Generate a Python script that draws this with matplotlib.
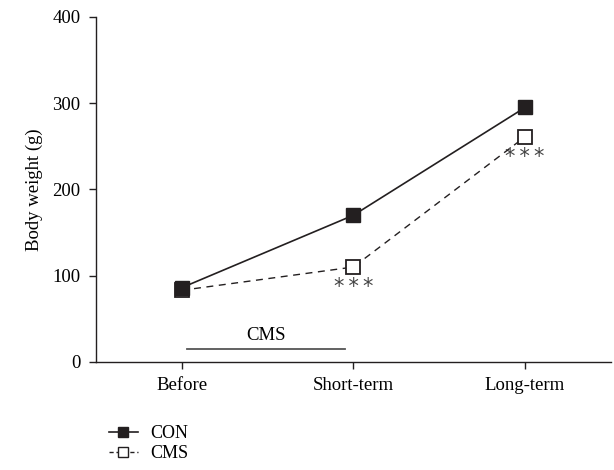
import matplotlib
matplotlib.use("Agg")
import matplotlib.pyplot as plt
from matplotlib.lines import Line2D

categories = ["Before", "Short-term", "Long-term"]
con_values = [86, 170, 295]
cms_values = [83, 110, 261]
cms_err = [3, 4, 6]
yticks = [0, 100, 200, 300, 400]
sig_labels = ["", "*\u2009*\u2009*", "*\u2009*\u2009*"]

plt.rcParams['font.family'] = ['Liberation Serif', 'DejaVu Serif']
plt.rcParams['font.size'] = 13.5

fig = plt.figure(figsize=(6.14, 4.70), dpi=100)
ax = fig.add_axes([0.156, 0.23, 0.839, 0.734])

x = list(range(len(categories)))
ax.plot(x, con_values, color='#231f20', lw=1.2, ls='-', marker='s', ms=10,
        mfc='#231f20', mec='#231f20', zorder=4)
ax.errorbar(x, cms_values, yerr=cms_err, color='#231f20', lw=1.0, ls=(0, (5, 4)),
            marker='s', ms=10, mfc='white', mec='#231f20', mew=1.3,
            capsize=3, elinewidth=0.8, zorder=3)

for xi, v, s in zip(x, cms_values, sig_labels):
    if s:
        ax.text(xi, v - 12, s, ha='center', va='top', fontsize=15,
                color='#444444', family='DejaVu Sans')

ax.plot([0.03, 0.95], [15, 15], color='#555555', lw=1.3)
ax.text(0.49, 21, "CMS", ha='center', va='bottom')

ax.set_xlim(-0.5, 2.5)
ax.set_ylim(0, 400)
ax.set_yticks(yticks)
ax.set_xticks(x)
ax.set_xticklabels(categories)
ax.set_ylabel("Body weight (g)", labelpad=7)
for sp in ['top', 'right']:
    ax.spines[sp].set_visible(False)
for sp in ['left', 'bottom']:
    ax.spines[sp].set_linewidth(1.0)
    ax.spines[sp].set_color('#231f20')
ax.tick_params(direction='out', length=5, width=1.0, color='#231f20', pad=6)

handles = [
    Line2D([], [], color='#231f20', lw=1.2, marker='s', ms=7, mfc='#231f20'),
    Line2D([], [], color='#231f20', lw=1.0, ls=(0, (3, 2)), marker='s', ms=7, mfc='white'),
]
fig.legend(handles, ["CON", "CMS"], loc='lower left', bbox_to_anchor=(0.157, -0.01),
           frameon=False, handlelength=1.6, handletextpad=0.7, labelspacing=0.15,
           borderpad=0.2, fontsize=13)

fig.savefig("out.png", dpi=100)
